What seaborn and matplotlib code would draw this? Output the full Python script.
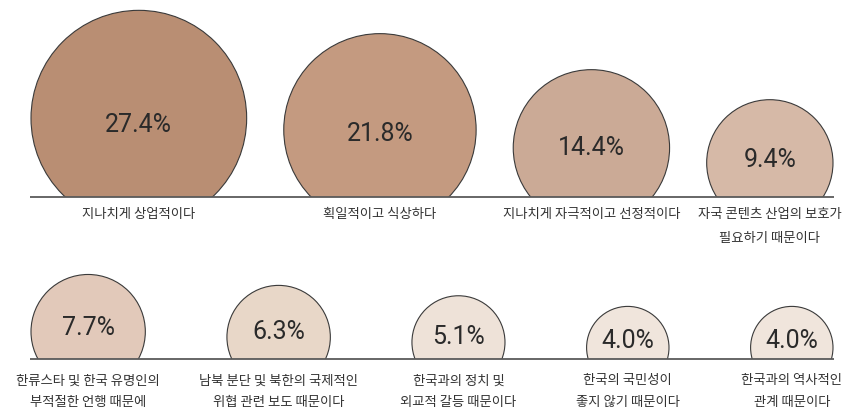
import numpy as np
import pandas as pd
import matplotlib
matplotlib.use("Agg")
import matplotlib.pyplot as plt
from matplotlib.patches import Rectangle
import seaborn as sns

# ---- data ----
top_labels = ["지나치게 상업적이다", "획일적이고 식상하다", "지나치게 자극적이고 선정적이다",
              "자국 콘텐츠 산업의 보호가\n필요하기 때문이다"]
top_values = [27.4, 21.8, 14.4, 9.4]
top_colors = ["#B98E73", "#C49A80", "#CBAA96", "#D6B9A7"]

bottom_labels = ["한류스타 및 한국 유명인의\n부적절한 언행 때문에", "남북 분단 및 북한의 국제적인\n위협 관련 보도 때문이다",
                 "한국과의 정치 및\n외교적 갈등 때문이다", "한국의 국민성이\n좋지 않기 때문이다",
                 "한국과의 역사적인\n관계 때문이다"]
bottom_values = [7.7, 6.3, 5.1, 4.0, 4.0]
bottom_colors = ["#E2C9BA", "#E8D7C8", "#EEE2D8", "#F0E5DC", "#F0E5DC"]

# ---- style / layout ----
W, H, DPI = 846, 411, 100
K = 20.6            # px radius per sqrt(percent)
X0, X1 = 31, 833    # circle packing extent
LINE_X0, LINE_X1 = 30, 834
SINK = 29.5         # circle bottom below baseline

sns.set_theme(style="white")
plt.rcParams['font.family'] = ['Noto Sans CJK KR', 'DejaVu Sans']

fig = plt.figure(figsize=(W / DPI, H / DPI), dpi=DPI)
ax = fig.add_axes([0, 0, 1, 1])
ax.set_xlim(0, W)
ax.set_ylim(H, 0)
ax.axis("off")


def draw_row(labels, values, colors, baseline, lab_off, lab_gap):
    vals = np.array(values, dtype=float)
    r = K * np.sqrt(vals)
    gap = (X1 - X0 - 2 * r.sum()) / (len(vals) - 1)
    lefts = X0 + np.concatenate([[0], np.cumsum(2 * r[:-1] + gap)])
    cx = lefts + r
    cy = baseline + SINK - r
    df = pd.DataFrame({"x": cx, "y": cy, "key": [f"{i}" for i in range(len(vals))]})
    sizes = (2 * r * 72 / DPI) ** 2
    n_before = len(ax.collections)
    sns.scatterplot(data=df, x="x", y="y", hue="key",
                    palette=dict(zip(df["key"], colors)), s=sizes,
                    edgecolor="#3a3a3a", linewidth=0.8, legend=False, ax=ax, zorder=2)
    coll = ax.collections[n_before]
    clip = Rectangle((0, 0), W, baseline, transform=ax.transData)
    coll.set_clip_path(clip)
    ax.plot([LINE_X0, LINE_X1], [baseline, baseline], color="#5a5a5a", lw=1.3, zorder=3,
            solid_capstyle="butt")
    for x, y, rr, v, lab in zip(cx, cy, r, vals, labels):
        ax.text(x, y + 0.2 * (rr - 75), f"{v:.1f}%", ha="center", va="center",
                fontsize=18, fontweight="normal", color="#2a2a2a",
                family=["Roboto", "DejaVu Sans"], zorder=4)
        for j, line in enumerate(lab.split("\n")):
            ax.text(x, baseline + lab_off + j * lab_gap, line, ha="center", va="center",
                    fontsize=9.6, color="#333333", zorder=4)


draw_row(top_labels, top_values, top_colors, 196.5, 17, 24)
draw_row(bottom_labels, bottom_values, bottom_colors, 359.3, 21, 22)

fig.savefig("out.png", dpi=DPI, facecolor="white")
